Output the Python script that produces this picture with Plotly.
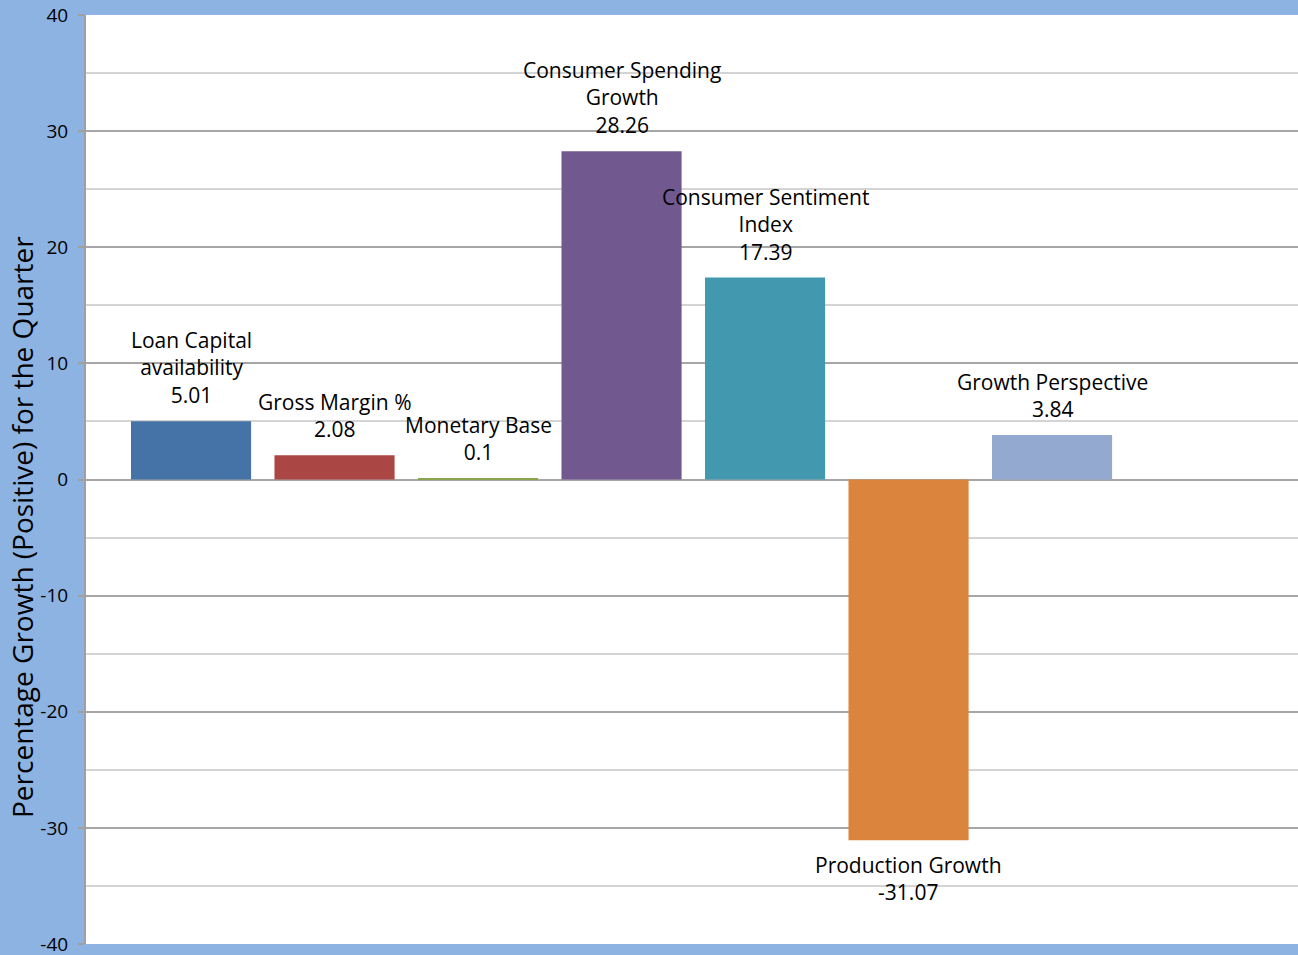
import plotly.graph_objects as go

categories = ["Loan Capital availability", "Gross Margin %", "Monetary Base",
              "Consumer Spending Growth", "Consumer Sentiment Index",
              "Production Growth", "Growth Perspective"]
label_names = ["Loan Capital<br>availability", "Gross Margin %", "Monetary Base",
               "Consumer Spending<br>Growth", "Consumer Sentiment<br>Index",
               "Production Growth", "Growth Perspective"]
values = [5.01, 2.08, 0.1, 28.26, 17.39, -31.07, 3.84]
value_text = ["5.01", "2.08", "0.1", "28.26", "17.39", "-31.07", "3.84"]
colors = ["#4572A7", "#AA4643", "#89A54E", "#71588F", "#4198AF", "#DB843D", "#93A9CF"]
y_ticks = [-40, -30, -20, -10, 0, 10, 20, 30, 40]

FONT = "Open Sans"

fig = go.Figure()
fig.add_trace(go.Bar(
    x=categories, y=values, marker=dict(color=colors, line=dict(width=0)),
    width=0.837, showlegend=False, hoverinfo="skip",
))

annotations = []
for c, n, v, t in zip(categories, label_names, values, value_text):
    pos = v >= 0
    annotations.append(dict(
        x=c, y=v, xref="x", yref="y", text=f"{n}<br>{t}", showarrow=False,
        yanchor="bottom" if pos else "top", yshift=10 if pos else -9,
        align="center", font=dict(family=FONT, size=21, color="#000000"),
    ))
annotations.append(dict(
    xref="paper", yref="paper", x=(22 - 86) / 1212, y=(944 - 527) / 929,
    text="Percentage Growth (Positive) for the Quarter", textangle=-90,
    showarrow=False, xanchor="center", yanchor="middle",
    font=dict(family=FONT, size=28, color="#000000"),
))

fig.update_layout(
    width=1298, height=955,
    margin=dict(l=86, r=0, t=15, b=11),
    paper_bgcolor="#8DB3E2", plot_bgcolor="#FFFFFF",
    annotations=annotations,
    xaxis=dict(type="category", range=[-0.732, 7.714], showticklabels=False,
               showgrid=False, zeroline=False, showline=False, ticks="",
               automargin=False),
    yaxis=dict(range=[-40, 40], tickvals=y_ticks, ticktext=[str(v) for v in y_ticks],
               automargin=False,
               showgrid=True, gridcolor="#A6A6A6", gridwidth=1.5,
               minor=dict(dtick=5, showgrid=True, gridcolor="#D4D4D4", gridwidth=1.5),
               zeroline=True, zerolinecolor="#A6A6A6", zerolinewidth=1.5,
               showline=True, linecolor="#A0A0A0", linewidth=2,
               ticks="outside", ticklen=6, tickcolor="#A0A0A0", tickwidth=2,
               ticklabelstandoff=6, ticklabeloverflow="allow",
               tickfont=dict(family=FONT, size=19, color="#000000")),
)

fig.write_html("out.html", config={"displayModeBar": False},
               post_script="document.body.style.margin='0';document.body.style.overflow='hidden';")
